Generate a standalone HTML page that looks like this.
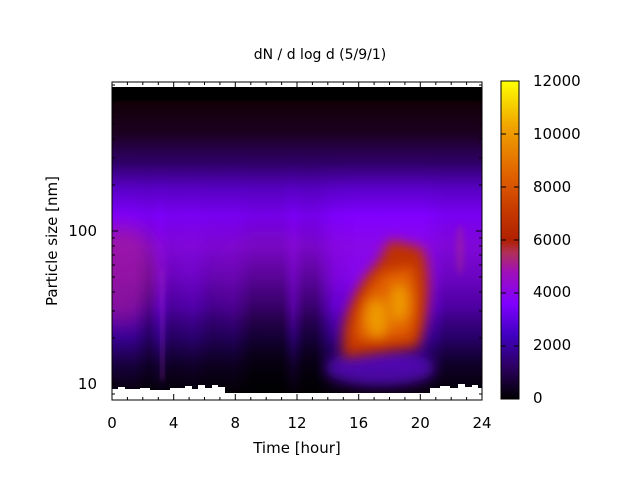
<!DOCTYPE html>
<html><head><meta charset="utf-8"><style>
html,body{margin:0;padding:0;background:#fff;width:640px;height:480px;overflow:hidden}
text{font-family:"DejaVu Sans","Liberation Sans",sans-serif;font-size:15px;fill:#000}
</style></head><body>
<svg width="640" height="480" viewBox="0 0 640 480" xmlns="http://www.w3.org/2000/svg">
<defs>
<linearGradient id="base" x1="0" y1="0" x2="0" y2="1">
<stop offset="0" stop-color="#000"/>
<stop offset="0.04" stop-color="#000"/>
<stop offset="0.05" stop-color="#120008"/>
<stop offset="0.15" stop-color="#1c0020"/>
<stop offset="0.25" stop-color="#30006a"/>
<stop offset="0.33" stop-color="#5a00c8"/>
<stop offset="0.42" stop-color="#8000ff"/>
<stop offset="0.52" stop-color="#8a08e8"/>
<stop offset="0.62" stop-color="#8506ee"/>
<stop offset="0.72" stop-color="#7000e8"/>
<stop offset="0.82" stop-color="#4000a8"/>
<stop offset="0.91" stop-color="#1c0048"/>
<stop offset="1" stop-color="#0a0010"/>
</linearGradient>
<linearGradient id="cb" x1="0" y1="1" x2="0" y2="0">
<stop offset="0" stop-color="#000"/>
<stop offset="0.1" stop-color="#2c0060"/>
<stop offset="0.2" stop-color="#4000c0"/>
<stop offset="0.3" stop-color="#8000ff"/>
<stop offset="0.4" stop-color="#a010b8"/>
<stop offset="0.46" stop-color="#b03058"/>
<stop offset="0.5" stop-color="#b02000"/>
<stop offset="0.6" stop-color="#c83c00"/>
<stop offset="0.7" stop-color="#e06000"/>
<stop offset="0.85" stop-color="#f0a000"/>
<stop offset="1" stop-color="#ffff00"/>
</linearGradient>
<linearGradient id="hd" x1="112" y1="0" x2="482" y2="0" gradientUnits="userSpaceOnUse">
<stop offset="0" stop-color="#000" stop-opacity="0.15"/>
<stop offset="0.06" stop-color="#000" stop-opacity="0.2"/>
<stop offset="0.1" stop-color="#000" stop-opacity="0.55"/>
<stop offset="0.13" stop-color="#000" stop-opacity="0.25"/>
<stop offset="0.16" stop-color="#000" stop-opacity="0.55"/>
<stop offset="0.22" stop-color="#000" stop-opacity="0.45"/>
<stop offset="0.27" stop-color="#000" stop-opacity="0.65"/>
<stop offset="0.33" stop-color="#000" stop-opacity="0.6"/>
<stop offset="0.38" stop-color="#000" stop-opacity="0.9"/>
<stop offset="0.46" stop-color="#000" stop-opacity="0.9"/>
<stop offset="0.49" stop-color="#000" stop-opacity="0.45"/>
<stop offset="0.52" stop-color="#000" stop-opacity="0.85"/>
<stop offset="0.55" stop-color="#000" stop-opacity="0.85"/>
<stop offset="0.6" stop-color="#000" stop-opacity="0.2"/>
<stop offset="0.66" stop-color="#000" stop-opacity="0"/>
<stop offset="0.84" stop-color="#000" stop-opacity="0"/>
<stop offset="0.9" stop-color="#000" stop-opacity="0.5"/>
<stop offset="1" stop-color="#000" stop-opacity="0.5"/>
</linearGradient>
<linearGradient id="vm" x1="0" y1="0" x2="0" y2="1">
<stop offset="0" stop-color="#fff" stop-opacity="0"/>
<stop offset="0.4" stop-color="#fff" stop-opacity="0.15"/>
<stop offset="0.7" stop-color="#fff" stop-opacity="0.7"/>
<stop offset="1" stop-color="#fff" stop-opacity="1"/>
</linearGradient>
<mask id="m1" maskUnits="userSpaceOnUse" x="112" y="150" width="370" height="243"><rect x="112" y="150" width="370" height="243" fill="url(#vm)"/></mask>
<filter id="b6" x="-50%" y="-50%" width="200%" height="200%"><feGaussianBlur stdDeviation="6"/></filter>
<filter id="b10" x="-50%" y="-50%" width="200%" height="200%"><feGaussianBlur stdDeviation="10"/></filter>
<filter id="b3" x="-50%" y="-50%" width="200%" height="200%"><feGaussianBlur stdDeviation="3"/></filter>
<clipPath id="cp"><rect x="112" y="87" width="370" height="306"/></clipPath>
</defs>
<text x="320" y="59" text-anchor="middle" style="font-size:14px">dN / d log d (5/9/1)</text>
<g clip-path="url(#cp)">
<rect x="112" y="87" width="370" height="306" fill="url(#base)"/>
<ellipse cx="122" cy="275" rx="35" ry="50" fill="#b02080" opacity="0.55" filter="url(#b10)"/>
<ellipse cx="270" cy="280" rx="60" ry="50" fill="#9010c8" opacity="0.25" filter="url(#b10)"/>
<rect x="112" y="150" width="370" height="243" fill="url(#hd)" mask="url(#m1)"/>
<rect x="161" y="270" width="3" height="110" fill="#a030c0" opacity="0.5" filter="url(#b3)"/>
<ellipse cx="380" cy="368" rx="55" ry="18" fill="#7010f0" opacity="0.6" filter="url(#b6)"/>
<path d="M344 358 C336 325 355 285 378 262 L390 240 L422 248 C434 272 428 325 418 348 L385 352 Z" fill="#c03000" filter="url(#b6)"/>
<path d="M356 342 C352 315 368 285 384 272 L412 266 C420 290 418 322 410 338 Z" fill="#e06000" filter="url(#b6)"/>
<ellipse cx="377" cy="318" rx="12" ry="20" fill="#f0a000" opacity="0.9" filter="url(#b6)"/>
<ellipse cx="399" cy="303" rx="10" ry="20" fill="#f0a000" opacity="0.9" filter="url(#b6)"/>
<ellipse cx="460" cy="250" rx="4" ry="25" fill="#b03080" opacity="0.4" filter="url(#b3)"/>
<rect x="112" y="87" width="370" height="13" fill="#000"/>
<path d="M112 393 L112 389 L118 389 L118 387 L125 387 L125 389 L140 389 L140 388 L150 388 L150 390 L170 390 L170 388 L185 388 L185 386 L192 386 L192 389 L198 389 L198 385 L205 385 L205 388 L212 388 L212 385 L218 385 L218 387 L225 387 L225 393 Z" fill="#fff"/>
<path d="M430 393 L430 388 L440 388 L440 386 L450 386 L450 388 L458 388 L458 384 L465 384 L465 387 L472 387 L472 385 L478 385 L478 388 L482 388 L482 393 Z" fill="#fff"/>
</g>
<rect x="112" y="82" width="370" height="318" fill="none" stroke="#000" stroke-width="1"/>
<g stroke="#000" stroke-width="1">
<path d="M112 400v-6M173.7 400v-6M235.3 400v-6M297 400v-6M358.7 400v-6M420.3 400v-6M482 400v-6
M112 82v6M173.7 82v6M235.3 82v6M297 82v6M358.7 82v6M420.3 82v6M482 82v6
M127.4 400v-3M142.8 400v-3M158.3 400v-3M189.1 400v-3M204.5 400v-3M219.9 400v-3M250.8 400v-3M266.2 400v-3M281.6 400v-3M312.4 400v-3M327.8 400v-3M343.3 400v-3M374.1 400v-3M389.5 400v-3M404.9 400v-3M435.8 400v-3M451.2 400v-3M466.6 400v-3
M127.4 82v3M142.8 82v3M158.3 82v3M189.1 82v3M204.5 82v3M219.9 82v3M250.8 82v3M266.2 82v3M281.6 82v3M312.4 82v3M327.8 82v3M343.3 82v3M374.1 82v3M389.5 82v3M404.9 82v3M435.8 82v3M451.2 82v3M466.6 82v3
M112 384h6M112 231h6M482 384h-6M482 231h-6
M112 394h3M112 338h3M112 311h3M112 292h3M112 277h3M112 265h3M112 255h3M112 246h3M112 238h3
M112 185h3M112 158h3M112 139h3M112 124h3M112 112h3M112 102h3M112 93h3M112 85h3
M482 394h-3M482 338h-3M482 311h-3M482 292h-3M482 277h-3M482 265h-3M482 255h-3M482 246h-3M482 238h-3
M482 185h-3M482 158h-3M482 139h-3M482 124h-3M482 112h-3M482 102h-3M482 93h-3M482 85h-3"/>
</g>
<text x="112" y="428" text-anchor="middle">0</text>
<text x="173.7" y="428" text-anchor="middle">4</text>
<text x="235.3" y="428" text-anchor="middle">8</text>
<text x="297" y="428" text-anchor="middle">12</text>
<text x="358.7" y="428" text-anchor="middle">16</text>
<text x="420.3" y="428" text-anchor="middle">20</text>
<text x="482" y="428" text-anchor="middle">24</text>
<text x="297" y="453" text-anchor="middle">Time [hour]</text>
<text x="97" y="389" text-anchor="end">10</text>
<text x="97" y="236" text-anchor="end">100</text>
<text transform="translate(57,241) rotate(-90)" text-anchor="middle">Particle size [nm]</text>
<rect x="501" y="81" width="18" height="318" fill="url(#cb)" stroke="#000" stroke-width="1"/>
<g stroke="#000" stroke-width="1">
<path d="M501 346h5M519 346h-5M501 293h5M519 293h-5M501 240h5M519 240h-5M501 187h5M519 187h-5M501 134h5M519 134h-5"/>
</g>
<text x="533" y="403">0</text>
<text x="533" y="350">2000</text>
<text x="533" y="297">4000</text>
<text x="533" y="245">6000</text>
<text x="533" y="192">8000</text>
<text x="533" y="139">10000</text>
<text x="533" y="86">12000</text>
</svg>
</body></html>
